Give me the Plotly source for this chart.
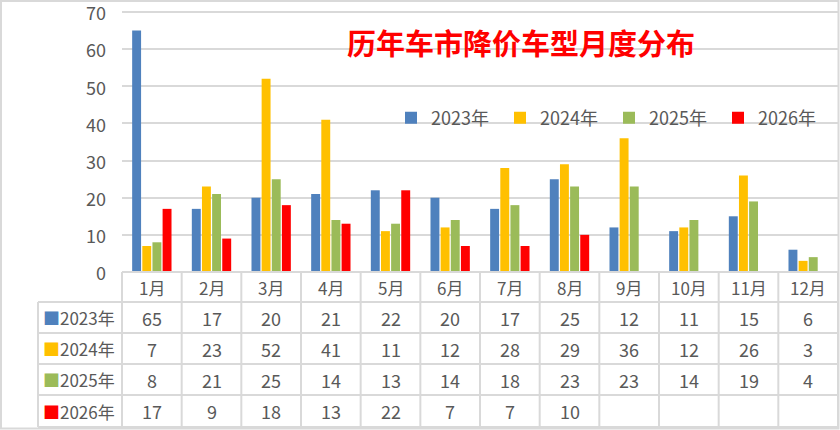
import plotly.graph_objects as go

months = ["1月", "2月", "3月", "4月", "5月", "6月", "7月", "8月", "9月", "10月", "11月", "12月"]
series_names = ["2023年", "2024年", "2025年", "2026年"]
v2023 = [65, 17, 20, 21, 22, 20, 17, 25, 12, 11, 15, 6]
v2024 = [7, 23, 52, 41, 11, 12, 28, 29, 36, 12, 26, 3]
v2025 = [8, 21, 25, 14, 13, 14, 18, 23, 23, 14, 19, 4]
v2026 = [17, 9, 18, 13, 22, 7, 7, 10, None, None, None, None]
title_text = "历年车市降价车型月度分布"

colors = ["#4F81BD", "#FFC000", "#9BBB59", "#FF0000"]
series_values = [v2023, v2024, v2025, v2026]

W, H = 840, 430
L = 122
T = 12 - 2          # 2px headroom so the 70 gridline is drawn
R = 840 - 838
B = H - 272
PW = W - L - R
PH = H - T - B
YMAX = 70 * (PH / (PH - 2))
FONT = "Noto Sans CJK SC, Noto Sans, sans-serif"
GRAY = "#595959"
LINE = "#D9D9D9"


def px2x(px):
    return (px - L) / PW


def py2y(py):
    return (H - B - py) / PH


fig = go.Figure()
for name, vals, c in zip(series_names, series_values, colors):
    fig.add_trace(go.Bar(x=months, y=vals, name=name, marker=dict(color=c, line=dict(width=0))))

shapes = []
annotations = []

row_edges = [272, 302, 333, 364, 395, 427]
col_left = 38
col_edges = [122 + (838 - 122) * i / 12 for i in range(13)]

shapes.append(dict(type="line", xref="paper", yref="paper", x0=px2x(122), x1=px2x(838),
                   y0=py2y(row_edges[0]), y1=py2y(row_edges[0]), line=dict(color=LINE, width=2)))
for ry in row_edges[1:]:
    shapes.append(dict(type="line", xref="paper", yref="paper", x0=px2x(col_left), x1=px2x(838),
                       y0=py2y(ry), y1=py2y(ry), line=dict(color=LINE, width=2)))
shapes.append(dict(type="line", xref="paper", yref="paper", x0=px2x(col_left), x1=px2x(col_left),
                   y0=py2y(row_edges[1]), y1=py2y(row_edges[-1]), line=dict(color=LINE, width=2)))
for cx in col_edges:
    shapes.append(dict(type="line", xref="paper", yref="paper", x0=px2x(cx), x1=px2x(cx),
                       y0=py2y(row_edges[0]), y1=py2y(row_edges[-1]), line=dict(color=LINE, width=2)))
# outer chart border
shapes.append(dict(type="rect", xref="paper", yref="paper", x0=px2x(1), x1=px2x(838.5),
                   y0=py2y(1), y1=py2y(428.5), line=dict(color=LINE, width=2)))

hy = (row_edges[0] + row_edges[1]) / 2
for m in months:
    annotations.append(dict(x=m, xref="x", y=py2y(hy), yref="paper", text=m, showarrow=False,
                            font=dict(size=17, color=GRAY, family=FONT), xanchor="center", yanchor="middle"))

for i, (name, vals, c) in enumerate(zip(series_names, series_values, colors)):
    cy = (row_edges[i + 1] + row_edges[i + 2]) / 2
    annotations.append(dict(x=px2x(41), xref="paper", y=py2y(cy), yref="paper",
                            text=f"<span style='color:{c}'>■</span>{name}", showarrow=False,
                            font=dict(size=17, color=GRAY, family=FONT), xanchor="left", yanchor="middle"))
    for m, v in zip(months, vals):
        if v is None:
            continue
        annotations.append(dict(x=m, xref="x", y=py2y(cy), yref="paper", text=str(v), showarrow=False,
                                font=dict(size=18, color=GRAY, family=FONT), xanchor="center", yanchor="middle"))

annotations.append(dict(x=px2x(521), xref="paper", y=py2y(42), yref="paper", text=f"<b>{title_text}</b>",
                        showarrow=False, font=dict(size=29, color="#FF0000", family=FONT),
                        xanchor="center", yanchor="middle"))

fig.update_layout(
    template="none",
    width=W, height=H,
    margin=dict(l=L, r=R, t=T, b=B, autoexpand=False),
    paper_bgcolor="white", plot_bgcolor="white",
    barmode="group", bargap=0.32, bargroupgap=0.12,
    font=dict(family=FONT, color=GRAY, size=17),
    showlegend=True,
    legend=dict(orientation="h", x=px2x(391), y=py2y(118), xanchor="left", yanchor="middle",
                font=dict(size=18, color=GRAY, family=FONT), bgcolor="rgba(0,0,0,0)",
                entrywidth=64, entrywidthmode="pixels", itemwidth=30, traceorder="normal"),
    xaxis=dict(showticklabels=False, showgrid=False, zeroline=False, showline=False, ticks=""),
    yaxis=dict(range=[0, YMAX], tick0=0, dtick=10, showgrid=True, gridcolor=LINE, gridwidth=1.5,
               zeroline=False, showline=False, ticks="", ticklabelstandoff=15,
               ticklabeloverflow="allow", ticklabelshift=2,
               tickfont=dict(size=18, color=GRAY, family=FONT)),
    shapes=shapes,
    annotations=annotations,
)

fig.write_html("out.html",
               config={"displayModeBar": False},
               post_script="document.body.style.margin='0';document.body.style.overflow='hidden';")
